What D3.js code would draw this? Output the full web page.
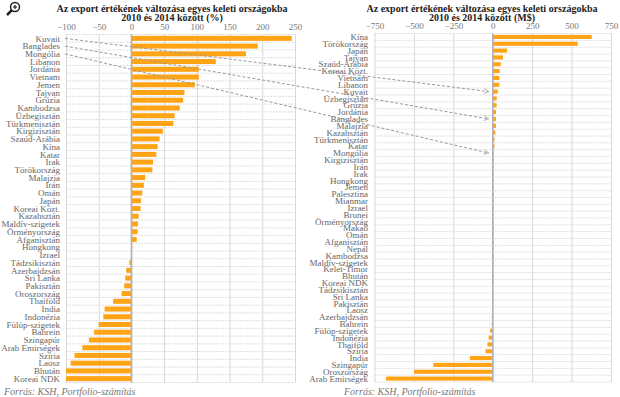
<!DOCTYPE html>
<html>
<head>
<meta charset="utf-8">
<script src="https://cdn.jsdelivr.net/npm/d3@7"></script>
<style>
  body { margin: 0; background: #fff; }
  svg { display: block; }
  text { font-family: "Liberation Serif", "DejaVu Serif", serif; }
</style>
</head>
<body>
<svg id="chart" width="620" height="397"></svg>
<script>
// bal oldali panel: változás %-ban
const leftCountries = ["Kuvait", "Banglades", "Mongólia", "Libanon", "Jordánia", "Vietnam", "Jemen", "Tajvan", "Grúzia", "Kambodzsa",
    "Üzbegisztán", "Türkmenisztán", "Kirgizisztán", "Szaúd-Arábia", "Kína", "Katar", "Irak", "Törökország", "Malajzia", "Irán",
    "Omán", "Japán", "Koreai Közt.", "Kazahsztán", "Maldív-szigetek", "Örményország", "Afganisztán", "Hongkong", "Izrael", "Tádzsikisztán",
    "Azerbajdzsán", "Sri Lanka", "Pakisztán", "Oroszország", "Thaiföld", "India", "Indonézia", "Fülöp-szigetek", "Bahrein", "Szingapúr",
    "Arab Emirségek", "Szíria", "Laosz", "Bhután", "Koreai NDK"];
const leftValues = [245, 193, 175, 129, 103, 103, 97, 81, 79, 74,
    66, 64, 48, 43, 40, 38, 33, 32, 21, 19,
    16.5, 14.5, 14, 11, 10, 9.5, 8, 1, -0.5, -3.3,
    -8, -9.5, -11, -15, -28, -41, -43, -50, -57, -65,
    -75, -87, -93, -100, -100];
const leftTicks = [-100, -50, 0, 50, 100, 150, 200, 250];

// jobb oldali panel: változás millió dollárban
const rightCountries = ["Kína", "Törökország", "Japán", "Tajvan", "Szaúd-Arábia", "Koreai Közt.", "Vietnam", "Libanon", "Kuvait", "Üzbegisztán",
    "Grúzia", "Jordánia", "Banglades", "Malajzia", "Kazahsztán", "Türkmenisztán", "Katar", "Mongólia", "Kirgizisztán", "Irán",
    "Irak", "Hongkong", "Jemen", "Palesztina", "Mianmar", "Izrael", "Brunei", "Örményország", "Makaó", "Omán",
    "Afganisztán", "Nepál", "Kambodzsa", "Maldív-szigetek", "Kelet-Timor", "Bhután", "Koreai NDK", "Tádzsikisztán", "Sri Lanka", "Pakisztán",
    "Laosz", "Azerbajdzsán", "Bahrein", "Fülöp-szigetek", "Indonézia", "Thaiföld", "Szíria", "India", "Szingapúr", "Oroszország",
    "Arab Emirségek"];
const rightValues = [628, 539, 91, 65, 51, 44, 42, 42, 32, 25,
    25, 21, 21, 21, 17, 11, 11, 6, 4, 3,
    3, 2, 2, 1.5, 1.2, 1, 1, 0.8, 0.7, 0.5,
    0.4, 0.3, 0.2, 0.1, 0, -0.5, -1, -2, -3, -4,
    -5, -6, -6.5, -17, -26, -34, -46, -145, -377, -499,
    -677];
const rightTicks = [-750, -500, -250, 0, 250, 500, 750];

const linked = ["Kuvait", "Banglades", "Mongólia"];

const titleLine1 = "Az export értékének változása egyes keleti országokba";
const source = "Forrás: KSH, Portfolio-számítás";

const svg = d3.select("#chart");
const orange = "#ffa414";

const defs = svg.append("defs");
defs.append("marker")
    .attr("id", "chev")
    .attr("viewBox", "0 0 10 10")
    .attr("refX", 9).attr("refY", 5)
    .attr("markerWidth", 6).attr("markerHeight", 6)
    .attr("markerUnits", "userSpaceOnUse")
    .attr("orient", "auto")
    .append("path")
    .attr("d", "M1,1 L9,5 L1,9")
    .attr("fill", "none")
    .attr("stroke", "#999")
    .attr("stroke-width", 1.2);

function drawPanel(opts) {
    const { names, values, ticks, x0, x1, y0, y1, labelX, titleX, title2, pad } = opts;

    const x = d3.scaleLinear().domain(d3.extent(ticks)).range([x0, x1]);
    const y = d3.scaleBand().domain(names).range([y0, y1]).paddingInner(pad).paddingOuter(pad / 2);
    const g = svg.append("g");

    // cím
    g.append("text")
        .attr("x", titleX).attr("y", 12)
        .attr("text-anchor", "middle")
        .style("font-size", "10px").style("font-weight", "bold").attr("fill", "#222")
        .text(titleLine1);
    g.append("text")
        .attr("x", titleX).attr("y", 21)
        .attr("text-anchor", "middle")
        .style("font-size", "10px").style("font-weight", "bold").attr("fill", "#222")
        .text(title2);

    // vízszintes rácsvonalak
    const step = y.step();
    const rows = d3.range(names.length + 1).map(i => y0 + i * step);
    g.selectAll("line.hgrid")
        .data(rows)
        .enter()
        .append("line")
        .attr("class", "hgrid")
        .attr("x1", x0).attr("x2", x1)
        .attr("y1", d => d).attr("y2", d => d)
        .attr("stroke", "#dedede")
        .attr("stroke-dasharray", "2,1");

    // függőleges rács + tengely
    const axis = g.append("g")
        .attr("transform", `translate(0,${y0})`)
        .call(d3.axisTop(x).tickValues(ticks).tickSize(-(y1 - y0)).tickPadding(5));
    axis.select(".domain").remove();
    axis.selectAll(".tick line").attr("stroke", "#d8d8d8");
    axis.selectAll(".tick text")
        .attr("fill", "#777")
        .style("font-size", "9px")
        .style("font-family", "Liberation Serif, serif");

    // oszlopok
    g.selectAll("rect.bar")
        .data(names.map((n, i) => ({ name: n, value: values[i] })))
        .enter()
        .append("rect")
        .attr("class", "bar")
        .attr("x", d => x(Math.min(0, d.value)))
        .attr("y", d => y(d.name))
        .attr("width", d => Math.max(Math.abs(x(d.value) - x(0)), d.value === 0 ? 0 : 0.8))
        .attr("height", y.bandwidth())
        .attr("fill", orange);

    // nulla vonal
    g.append("line")
        .attr("x1", x(0)).attr("x2", x(0))
        .attr("y1", y0).attr("y2", y1)
        .attr("stroke", "#aeb2bc")
        .attr("stroke-width", 1.5);

    // országnevek
    g.selectAll("text.lbl")
        .data(names)
        .enter()
        .append("text")
        .attr("class", "lbl")
        .attr("x", labelX)
        .attr("y", d => y(d) + y.bandwidth() / 2)
        .attr("dy", "0.35em")
        .attr("text-anchor", "end")
        .attr("fill", "#666")
        .style("font-size", "9px")
        .text(d => d);

    // forrás
    g.append("text")
        .attr("x", opts.srcX).attr("y", 395)
        .attr("fill", "#777")
        .style("font-size", "10px")
        .style("font-style", "italic")
        .text(source);

    return { x, y };
}

const L = drawPanel({
    names: leftCountries, values: leftValues, ticks: leftTicks,
    x0: 66, x1: 295, y0: 34.5, y1: 382.5, labelX: 60, titleX: 172,
    title2: "2010 és 2014 között (%)", pad: 0.35, srcX: 4
});
const R = drawPanel({
    names: rightCountries, values: rightValues, ticks: rightTicks,
    x0: 374.5, x1: 611, y0: 33.5, y1: 382, labelX: 368, titleX: 482,
    title2: "2010 és 2014 között (M$)", pad: 0.4, srcX: 344
});

// összekötő nyilak
svg.append("g").selectAll("line")
    .data(linked)
    .enter()
    .append("line")
    .attr("x1", L.x(-100) - 1)
    .attr("y1", d => L.y(d) + L.y.bandwidth() / 2)
    .attr("x2", R.x(0) - 4)
    .attr("y2", d => R.y(d) + R.y.bandwidth() / 2)
    .attr("stroke", "#999")
    .attr("stroke-width", 1)
    .attr("stroke-dasharray", "3,2")
    .attr("marker-end", "url(#chev)");

// nagyító ikon
const mag = svg.append("g").attr("stroke", "#222").attr("fill", "none");
mag.append("circle").attr("cx", 15).attr("cy", 7).attr("r", 4.5).attr("stroke-width", 1.5);
mag.append("line").attr("x1", 11.8).attr("y1", 10.2).attr("x2", 7).attr("y2", 15).attr("stroke-width", 2.5);
mag.append("line").attr("x1", 13).attr("y1", 7).attr("x2", 17).attr("y2", 7).attr("stroke-width", 1.2);
mag.append("line").attr("x1", 15).attr("y1", 5).attr("x2", 15).attr("y2", 9).attr("stroke-width", 1.2);
</script>
</body>
</html>
